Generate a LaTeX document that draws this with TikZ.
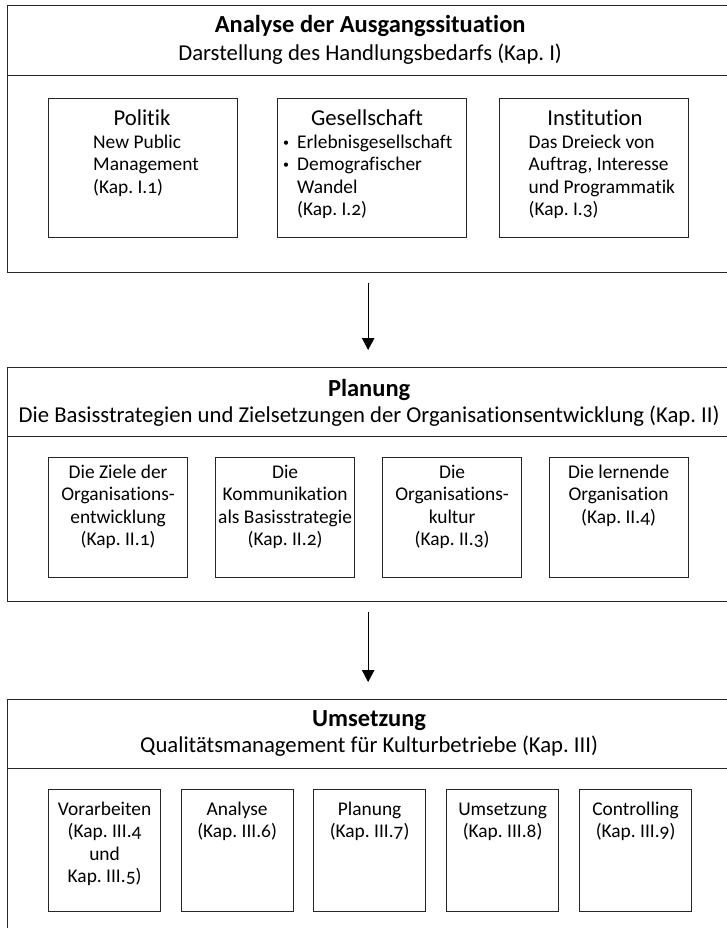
\documentclass[tikz,border=0pt]{standalone}
\usepackage{fontspec}
\setmainfont{Carlito}[Numbers=OldStyle, Ligatures={NoCommon,NoRare}]
\usetikzlibrary{arrows.meta,calc}
\newcommand{\smallbul}{\raisebox{0.22ex}{\fontsize{12}{12}\selectfont\textbullet}}
\begin{document}
\begin{tikzpicture}[x=1pt,y=-1pt,
  frame/.style={draw=black!85, line width=1.3pt, rectangle, inner sep=0pt, anchor=north west, minimum width=722pt},
  ibox/.style={draw=black!85, line width=1.2pt, rectangle, inner sep=0pt, anchor=north west},
  ttl/.style={font=\fontsize{24.5}{28}\selectfont\bfseries, anchor=base, inner sep=0pt},
  sub/.style={font=\fontsize{22.7}{26}\selectfont, anchor=base, inner sep=0pt},
  btxt/.style={font=\fontsize{19.4}{22.5}\selectfont, anchor=base, inner sep=0pt},
  btxtl/.style={font=\fontsize{19.4}{22.5}\selectfont, anchor=base west, inner sep=0pt},
  flow/.style={draw=black, line width=1pt, -{Triangle[length=12pt,width=12.5pt]}, shorten <=10pt, shorten >=17pt}
]
\useasboundingbox (0,0) rectangle (727,928);
\clip (0,0) rectangle (727,928);

% ---------- Section 1 ----------
\node[frame, minimum height=70pt] (head1) at (6.5,5) {};
\node[frame, minimum height=197pt] (body1) at (6.5,75) {};
\node[ttl] (title1) at ($(head1.north)+(2,28)$) {Analyse der Ausgangssituation};
\node[sub] (sub1) at ($(head1.north)+(2,56)$) {Darstellung des Handlungsbedarfs (Kap.~I)};

\node[ibox, minimum width=189pt, minimum height=139pt] (p1) at (48,98) {};
\node[ibox, minimum width=189pt, minimum height=139pt] (p2) at (277,98) {};
\node[ibox, minimum width=189pt, minimum height=139pt] (p3) at (499,98) {};

\node[sub] (p1t) at ($(p1.north west)+(94,27.7)$) {Politik};
\node[btxtl] (p1b) at ($(p1.north west)+(45,50.3)$)
  {\begin{tabular}[t]{@{}l@{}}New Public\\Management\\(Kap.~I.1)\end{tabular}};

\node[sub] (p2t) at ($(p2.north west)+(90,27.7)$) {Gesellschaft};
\node[btxtl] (p2b) at ($(p2.north west)+(6,50.3)$)
  {\begin{tabular}[t]{@{}l@{}}\makebox[14pt][l]{\smallbul}Erlebnisgesellschaft\\\makebox[14pt][l]{\smallbul}Demografischer\\\hspace{14pt}Wandel\\\hspace{14pt}(Kap.~I.2)\end{tabular}};

\node[sub] (p3t) at ($(p3.north west)+(96,27.7)$) {Institution};
\node[btxtl] (p3b) at ($(p3.north west)+(29.5,50.3)$)
  {\begin{tabular}[t]{@{}l@{}}Das Dreieck von\\Auftrag, Interesse\\und Programmatik\\(Kap.~I.3)\end{tabular}};

% ---------- Section 2 ----------
\node[frame, minimum height=69pt] (head2) at (6.5,367) {};
\node[frame, minimum height=165pt] (body2) at (6.5,436) {};
\node[ttl] (title2) at ($(head2.north)+(1,29)$) {Planung};
\node[sub] (sub2) at ($(head2.north)+(1,55.7)$) {Die Basisstrategien und Zielsetzungen der Organisationsentwicklung (Kap.~II)};

\node[ibox, minimum width=139pt, minimum height=120pt] (q1) at (48,457) {};
\node[ibox, minimum width=139pt, minimum height=120pt] (q2) at (215,457) {};
\node[ibox, minimum width=139pt, minimum height=120pt] (q3) at (382,457) {};
\node[ibox, minimum width=139pt, minimum height=120pt] (q4) at (548.5,457) {};

\node[btxt] (q1b) at ($(q1.north)+(0,21)$)
  {\begin{tabular}[t]{@{}c@{}}Die Ziele der\\Organisations-\\entwicklung\\(Kap.~II.1)\end{tabular}};
\node[btxt] (q2b) at ($(q2.north)+(0,21)$)
  {\begin{tabular}[t]{@{}c@{}}Die\\Kommunikation\\als Basisstrategie\\(Kap.~II.2)\end{tabular}};
\node[btxt] (q3b) at ($(q3.north)+(0,21)$)
  {\begin{tabular}[t]{@{}c@{}}Die\\Organisations-\\kultur\\(Kap.~II.3)\end{tabular}};
\node[btxt] (q4b) at ($(q4.north)+(0,21)$)
  {\begin{tabular}[t]{@{}c@{}}Die lernende\\Organisation\\(Kap.~II.4)\end{tabular}};

% ---------- Section 3 ----------
\node[frame, minimum height=69pt] (head3) at (6.5,699) {};
\node[frame, minimum height=180pt] (body3) at (6.5,768) {};
\node[ttl] (title3) at ($(head3.north)+(1,27)$) {Umsetzung};
\node[sub] (sub3) at ($(head3.north)+(1,53.7)$) {Qualitätsmanagement für Kulturbetriebe (Kap.~III)};

\node[ibox, minimum width=112pt, minimum height=122pt] (r1) at (48,789) {};
\node[ibox, minimum width=112pt, minimum height=122pt] (r2) at (180.5,789) {};
\node[ibox, minimum width=112pt, minimum height=122pt] (r3) at (313,789) {};
\node[ibox, minimum width=112pt, minimum height=122pt] (r4) at (446,789) {};
\node[ibox, minimum width=112pt, minimum height=122pt] (r5) at (579,789) {};

\node[btxt] (r1b) at ($(r1.north)+(0,26)$)
  {\begin{tabular}[t]{@{}c@{}}Vorarbeiten\\(Kap.~III.4\\und\\Kap.~III.5)\end{tabular}};
\node[btxt] (r2b) at ($(r2.north)+(0,26)$)
  {\begin{tabular}[t]{@{}c@{}}Analyse\\(Kap.~III.6)\end{tabular}};
\node[btxt] (r3b) at ($(r3.north)+(0,26)$)
  {\begin{tabular}[t]{@{}c@{}}Planung\\(Kap.~III.7)\end{tabular}};
\node[btxt] (r4b) at ($(r4.north)+(0,26)$)
  {\begin{tabular}[t]{@{}c@{}}Umsetzung\\(Kap.~III.8)\end{tabular}};
\node[btxt] (r5b) at ($(r5.north)+(0,26)$)
  {\begin{tabular}[t]{@{}c@{}}Controlling\\(Kap.~III.9)\end{tabular}};

% ---------- Arrows ----------
\draw[flow] (body1.south) -- (head2.north);
\draw[flow] (body2.south) -- (head3.north);
\end{tikzpicture}
\end{document}
